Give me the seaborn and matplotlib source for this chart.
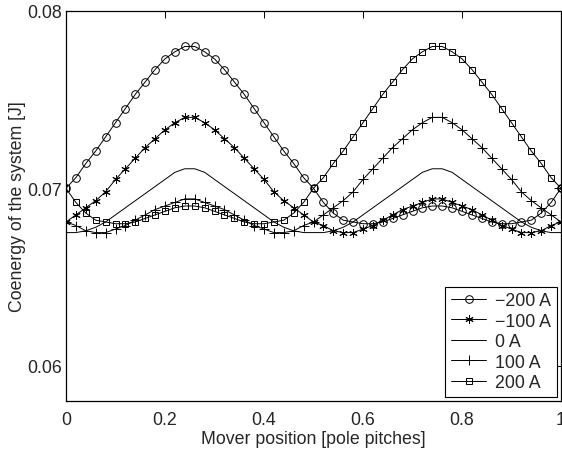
import matplotlib
matplotlib.use("Agg")
import matplotlib.pyplot as plt
import seaborn as sns
import pandas as pd

# Mover position in pole pitches (sampled every 0.02)
position = [round(0.02 * i, 2) for i in range(51)]

# Coenergy [J] for each coil current
coenergy_m200 = [
    0.0700, 0.0706, 0.0714, 0.0721, 0.0729, 0.0737, 0.0745, 0.0753, 0.0760, 0.0767,
    0.0773, 0.0777, 0.0780, 0.0780, 0.0777, 0.0773, 0.0767, 0.0760, 0.0753, 0.0745,
    0.0737, 0.0729, 0.0721, 0.0714, 0.0706, 0.0700,
    0.0692, 0.0686, 0.0682, 0.0681, 0.0680, 0.0680, 0.0681, 0.0683, 0.0685, 0.0687,
    0.0689, 0.0690, 0.0690, 0.0689, 0.0687, 0.0685, 0.0683, 0.0681, 0.0680, 0.0680,
    0.0681, 0.0682, 0.0686, 0.0692, 0.0700,
]
coenergy_m100 = [
    0.0681, 0.0685, 0.0689, 0.0693, 0.0698, 0.0705, 0.0711, 0.0717, 0.0723, 0.0728,
    0.0733, 0.0737, 0.0740, 0.0740, 0.0737, 0.0733, 0.0728, 0.0723, 0.0717, 0.0711,
    0.0705, 0.0698, 0.0693, 0.0689, 0.0685, 0.0681,
    0.0679, 0.0676, 0.0675, 0.0675, 0.0677, 0.0679, 0.0682, 0.0685, 0.0688, 0.0690,
    0.0692, 0.0694, 0.0694, 0.0692, 0.0690, 0.0688, 0.0685, 0.0682, 0.0679, 0.0677,
    0.0675, 0.0675, 0.0676, 0.0679, 0.0681,
]
coenergy_0 = [
    0.0675, 0.0675, 0.0676, 0.0678, 0.0681, 0.0685, 0.0689, 0.0693, 0.0697, 0.0701,
    0.0705, 0.0709, 0.0711, 0.0711, 0.0709, 0.0705, 0.0701, 0.0697, 0.0693, 0.0689,
    0.0685, 0.0681, 0.0678, 0.0676, 0.0675, 0.0675,
    0.0675, 0.0676, 0.0678, 0.0681, 0.0685, 0.0689, 0.0693, 0.0697, 0.0701, 0.0705,
    0.0709, 0.0711, 0.0711, 0.0709, 0.0705, 0.0701, 0.0697, 0.0693, 0.0689, 0.0685,
    0.0681, 0.0678, 0.0676, 0.0675, 0.0675,
]
coenergy_p100 = [
    0.0681, 0.0679, 0.0676, 0.0675, 0.0675, 0.0677, 0.0679, 0.0682, 0.0685, 0.0688,
    0.0690, 0.0692, 0.0694, 0.0694, 0.0692, 0.0690, 0.0688, 0.0685, 0.0682, 0.0679,
    0.0677, 0.0675, 0.0675, 0.0676, 0.0679, 0.0681,
    0.0685, 0.0689, 0.0693, 0.0698, 0.0705, 0.0711, 0.0717, 0.0723, 0.0728, 0.0733,
    0.0737, 0.0740, 0.0740, 0.0737, 0.0733, 0.0728, 0.0723, 0.0717, 0.0711, 0.0705,
    0.0698, 0.0693, 0.0689, 0.0685, 0.0681,
]
coenergy_p200 = [
    0.0700, 0.0692, 0.0686, 0.0682, 0.0681, 0.0680, 0.0680, 0.0681, 0.0683, 0.0685,
    0.0687, 0.0689, 0.0690, 0.0690, 0.0689, 0.0687, 0.0685, 0.0683, 0.0681, 0.0680,
    0.0680, 0.0681, 0.0682, 0.0686, 0.0692, 0.0700,
    0.0706, 0.0714, 0.0721, 0.0729, 0.0737, 0.0745, 0.0753, 0.0760, 0.0767, 0.0773,
    0.0777, 0.0780, 0.0780, 0.0777, 0.0773, 0.0767, 0.0760, 0.0753, 0.0745, 0.0737,
    0.0729, 0.0721, 0.0714, 0.0706, 0.0700,
]

series_labels = ["\u2212200 A", "\u2212100 A", "0 A", "100 A", "200 A"]
series_values = [coenergy_m200, coenergy_m100, coenergy_0, coenergy_p100, coenergy_p200]
series_markers = ["o", (6, 2, 0), None, "+", "s"]
marker_sizes = [5.5, 6.0, 0, 6.5, 4.8]

x_ticks = [0, 0.2, 0.4, 0.6, 0.8, 1]
x_tick_labels = ["0", "0.2", "0.4", "0.6", "0.8", "1"]
y_ticks = [0.06, 0.07, 0.08]
y_tick_labels = ["0.06", "0.07", "0.08"]

FS = 12.8

sns.set_style("white")
plt.rcParams["font.family"] = ["Liberation Sans", "DejaVu Sans"]
plt.rcParams["font.size"] = FS
plt.rcParams["xtick.direction"] = "in"
plt.rcParams["ytick.direction"] = "in"

fig = plt.figure(figsize=(5.62, 4.52), dpi=100)
ax = fig.add_axes([66 / 562, 1 - 402 / 452, 495 / 562, 390 / 452])

for label, values, mk, ms in zip(series_labels, series_values, series_markers, marker_sizes):
    df = pd.DataFrame({"pos": position, "val": values})
    kw = dict(color="black", linewidth=0.7, label=label)
    if mk is not None:
        kw.update(marker=mk, markersize=ms, markerfacecolor="none",
                  markeredgecolor="black", markeredgewidth=0.7)
    sns.lineplot(data=df, x="pos", y="val", ax=ax, **kw)

ax.set_xlim(0, 1)
ax.set_ylim(0.058, 0.08)
ax.set_xticks(x_ticks)
ax.set_xticklabels(x_tick_labels)
ax.set_yticks(y_ticks)
ax.set_yticklabels(y_tick_labels)
ax.tick_params(axis="both", which="both", length=5, width=0.7, color="black",
               top=True, right=True, labelsize=FS)
ax.tick_params(axis="x", pad=7)
ax.tick_params(axis="y", pad=3)
for sp in ax.spines.values():
    sp.set_visible(True)
    sp.set_color("black")
    sp.set_linewidth(0.9)

ax.set_xlabel("Mover position [pole pitches]", fontsize=FS, labelpad=2)
ax.set_ylabel("Coenergy of the system [J]", fontsize=FS, labelpad=1)

leg = ax.legend(loc="lower right", frameon=True, fancybox=False, framealpha=1,
                edgecolor="black", fontsize=FS, handlelength=2.0,
                handletextpad=0.5, labelspacing=0.2, borderpad=0.3,
                borderaxespad=0.25)
leg.get_frame().set_linewidth(0.8)

fig.savefig("out.png", dpi=100)
